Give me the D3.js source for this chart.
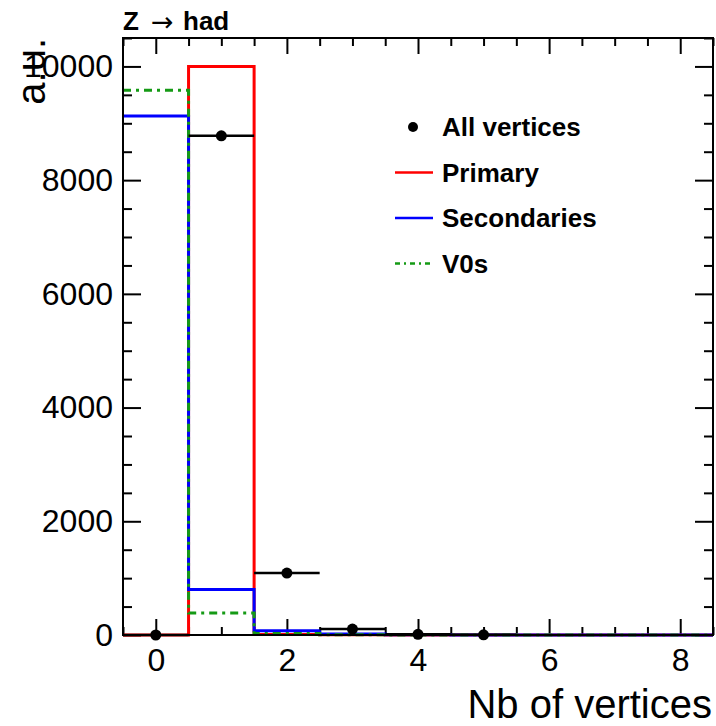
<!DOCTYPE html>
<html>
<head>
<meta charset="utf-8">
<script src="https://cdn.jsdelivr.net/npm/d3@7"></script>
<style>
  body { margin: 0; background: #fff; }
  svg { display: block; font-family: "Liberation Sans", Arial, Helvetica, sans-serif; }
</style>
</head>
<body>
<div id="chart"></div>
<script>
// bin centres 0..8 (bin width 1)
const bins = [0, 1, 2, 3, 4, 5, 6, 7, 8];
const primary = [0, 10000, 8, 3, 1, 0, 0, 0, 0];
const secondaries = [9130, 800, 75, 18, 4, 1, 0, 0, 0];
const v0s = [9580, 385, 25, 6, 1, 0, 0, 0, 0];
// "All vertices" points (only non-empty bins drawn)
const allBins = [0, 1, 2, 3, 4, 5];
const allVertices = [0, 8780, 1090, 105, 12, 3];

const xMajor = [0, 2, 4, 6, 8];
const yMajor = [0, 2000, 4000, 6000, 8000, 10000];

const W = 716, H = 726;
const m = {left: 123, top: 38, right: 3, bottom: 91};
const iw = W - m.left - m.right, ih = H - m.top - m.bottom;

const svg = d3.select("#chart").append("svg")
    .attr("width", W)
    .attr("height", H);

const x = d3.scaleLinear().domain([-0.5, 8.5]).range([m.left, m.left + iw]);
const y = d3.scaleLinear().domain([0, 10500]).range([m.top + ih, m.top]);

const xMinor = d3.range(-0.5, 8.51, 0.5).filter(v => !xMajor.includes(v));
const yMinor = d3.range(0, 10501, 500).filter(v => !yMajor.includes(v));

function styleAxis(g){
    g.select(".domain").remove();
    g.selectAll("line").attr("stroke", "#000").attr("stroke-width", 2);
    g.selectAll("text").attr("font-size", 32).attr("fill", "#000");
}

// bottom axis
svg.append("g")
    .attr("transform", "translate(0," + (m.top + ih) + ")")
    .call(d3.axisBottom(x).tickValues(xMajor).tickSize(-16).tickPadding(13).tickFormat(d3.format("d")))
    .call(styleAxis);
svg.append("g")
    .attr("transform", "translate(0," + (m.top + ih) + ")")
    .call(d3.axisBottom(x).tickValues(xMinor).tickSize(-8).tickFormat(""))
    .call(styleAxis);
// top axis
svg.append("g")
    .attr("transform", "translate(0," + m.top + ")")
    .call(d3.axisTop(x).tickValues(xMajor).tickSize(-16).tickFormat(""))
    .call(styleAxis);
svg.append("g")
    .attr("transform", "translate(0," + m.top + ")")
    .call(d3.axisTop(x).tickValues(xMinor).tickSize(-8).tickFormat(""))
    .call(styleAxis);
// left axis
svg.append("g")
    .attr("transform", "translate(" + m.left + ",0)")
    .call(d3.axisLeft(y).tickValues(yMajor).tickSize(-18).tickPadding(10).tickFormat(d3.format("d")))
    .call(styleAxis);
svg.append("g")
    .attr("transform", "translate(" + m.left + ",0)")
    .call(d3.axisLeft(y).tickValues(yMinor).tickSize(-9).tickFormat(""))
    .call(styleAxis);
// right axis
svg.append("g")
    .attr("transform", "translate(" + (m.left + iw) + ",0)")
    .call(d3.axisRight(y).tickValues(yMajor).tickSize(-18).tickFormat(""))
    .call(styleAxis);
svg.append("g")
    .attr("transform", "translate(" + (m.left + iw) + ",0)")
    .call(d3.axisRight(y).tickValues(yMinor).tickSize(-9).tickFormat(""))
    .call(styleAxis);

// histogram outlines
function stepPoints(vals){
    const pts = [];
    bins.forEach((b, i) => {
        pts.push([b - 0.5, vals[i]]);
        pts.push([b + 0.5, vals[i]]);
    });
    return pts;
}
const line = d3.line().x(d => x(d[0])).y(d => y(d[1]));

const hists = [
    {vals: primary, color: "#ff0000", dash: null},
    {vals: secondaries, color: "#0000ff", dash: null},
    {vals: v0s, color: "#159a15", dash: "8,5,3,5"}
];
svg.append("g").selectAll("path")
    .data(hists)
    .enter()
    .append("path")
    .attr("d", d => line(stepPoints(d.vals)))
    .attr("fill", "none")
    .attr("stroke", d => d.color)
    .attr("stroke-width", 3)
    .attr("stroke-dasharray", d => d.dash);

// all vertices: points with horizontal bars
const pts = svg.append("g");
pts.selectAll("line")
    .data(allBins)
    .enter()
    .append("line")
    .attr("x1", (d) => x(d - 0.5))
    .attr("x2", (d) => x(d + 0.5))
    .attr("y1", (d, i) => y(allVertices[i]))
    .attr("y2", (d, i) => y(allVertices[i]))
    .attr("stroke", "#000")
    .attr("stroke-width", 2.5);
pts.selectAll("circle")
    .data(allBins)
    .enter()
    .append("circle")
    .attr("cx", d => x(d))
    .attr("cy", (d, i) => y(allVertices[i]))
    .attr("r", 5.5)
    .attr("fill", "#000");

// frame
svg.append("rect")
    .attr("x", m.left)
    .attr("y", m.top)
    .attr("width", iw)
    .attr("height", ih)
    .attr("fill", "none")
    .attr("stroke", "#000")
    .attr("stroke-width", 2);

// titles
const title = svg.append("text")
    .attr("y", 30)
    .attr("font-size", 26)
    .attr("font-weight", "bold");
title.append("tspan").attr("x", m.left).text("Z");
title.append("tspan")
    .attr("x", 151)
    .attr("font-family", "DejaVu Sans")
    .attr("font-weight", "normal")
    .attr("font-size", 27)
    .attr("dy", 1)
    .text("\u2192");
title.append("tspan").attr("x", 183).attr("dy", -1).text("had");

svg.append("text")
    .attr("x", 712)
    .attr("y", 718)
    .attr("text-anchor", "end")
    .attr("font-size", 40)
    .text("Nb of vertices");

svg.append("text")
    .attr("transform", "translate(45," + m.top + ") rotate(-90)")
    .attr("text-anchor", "end")
    .attr("font-size", 40)
    .text("a.u.");

// legend
const legend = svg.append("g");
const legItems = [
    {label: "All vertices", type: "point"},
    {label: "Primary", color: "#ff0000"},
    {label: "Secondaries", color: "#0000ff"},
    {label: "V0s", color: "#159a15", dash: "5,4,2,4"}
];
legItems.forEach((it, i) => {
    const ly = 127 + i * 45.5;
    if (it.type === "point") {
        legend.append("circle").attr("cx", 413).attr("cy", ly).attr("r", 5).attr("fill", "#000");
    } else {
        legend.append("line")
            .attr("x1", 395).attr("x2", 433)
            .attr("y1", ly).attr("y2", ly)
            .attr("stroke", it.color)
            .attr("stroke-width", 2.5)
            .attr("stroke-dasharray", it.dash || null);
    }
    legend.append("text")
        .attr("x", 442)
        .attr("y", ly)
        .attr("dy", "0.36em")
        .attr("font-size", 26)
        .attr("font-weight", "bold")
        .text(it.label);
});
</script>
</body>
</html>
